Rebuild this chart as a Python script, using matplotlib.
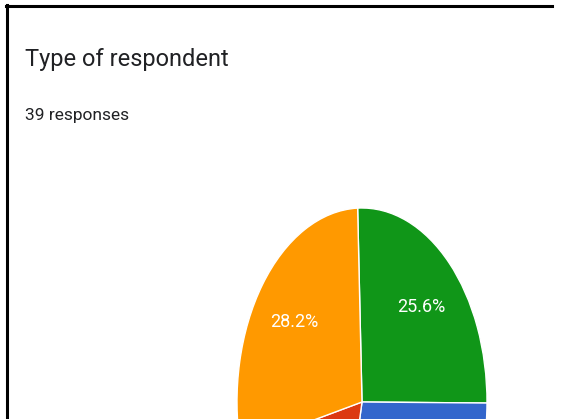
import numpy as np
import matplotlib
matplotlib.use('Agg')
import matplotlib.pyplot as plt
from matplotlib.lines import Line2D

# data (Google Forms summary, bottom of pie is cut off in the reference)
categories = ['Green', 'Blue', 'Red', 'Orange']
counts = [10, 11, 7, 11]
colors = ['#109618', '#3366cc', '#dc3912', '#ff9900']
title = 'Type of respondent'
subtitle = '{} responses'.format(sum(counts))

W, H = 561, 419
fig = plt.figure(figsize=(W / 100, H / 100), dpi=100)
fig.patch.set_facecolor('white')

font = ['Roboto', 'DejaVu Sans']

# frame of the screenshot
fig.add_artist(Line2D([6 / W, 552 / W], [1 - 6 / H, 1 - 6 / H], color='black', lw=2.2))
fig.add_artist(Line2D([7 / W, 7 / W], [1 - 5 / H, 0], color='black', lw=2.2))

fig.text(25 / W, 1 - 66 / H, title, family=font, fontsize=17, color='#202124', va='baseline')
fig.text(25 / W, 1 - 120 / H, subtitle, family=font, fontsize=12.5, color='#202124', va='baseline')

# pie is squashed horizontally in the screenshot
cx, cy, rx, ry = 362, 402, 125, 194
ax = fig.add_axes([(cx - rx) / W, (H - cy - ry) / H, 2 * rx / W, 2 * ry / H])
wedges, texts, autotexts = ax.pie(counts, colors=colors, startangle=92, counterclock=False,
                                  radius=1, autopct='%.1f%%', pctdistance=0.68,
                                  wedgeprops=dict(edgecolor='white', linewidth=1),
                                  textprops=dict(color='white', family=font, fontsize=13))
# labels of the lower slices fall below the cropped edge
for t in autotexts:
    if t.get_position()[1] < 0:
        t.set_visible(False)
ax.set_aspect('auto')
ax.set_xlim(-1, 1)
ax.set_ylim(-1, 1)
ax.axis('off')

fig.savefig('out.png', dpi=100, facecolor='white')
